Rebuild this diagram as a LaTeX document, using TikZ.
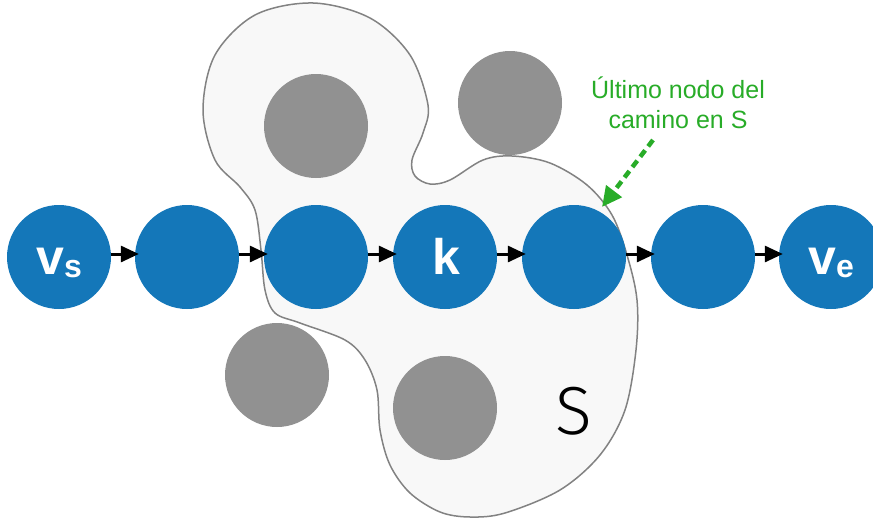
\documentclass[tikz,border=0pt]{standalone}
\usepackage{fontspec}
\setmainfont{Liberation Sans}
\newfontfamily\thinfont{Fira Sans Light}
\usetikzlibrary{arrows.meta}
\definecolor{nodeblue}{RGB}{20,119,185}
\definecolor{obsgray}{RGB}{145,145,145}
\definecolor{blobfill}{RGB}{248,248,248}
\definecolor{blobline}{RGB}{130,130,130}
\definecolor{labgreen}{RGB}{40,172,40}
\tikzset{
  bnode/.style={circle, fill=nodeblue, minimum size=104pt, inner sep=0pt},
  gnode/.style={circle, fill=obsgray, minimum size=104pt, inner sep=0pt},
  lbl/.style={text=white, font=\bfseries\fontsize{50}{50}\selectfont, inner sep=0pt, anchor=base},
  arr/.style={line width=3pt, -{Triangle[length=18pt,width=16pt]}, shorten >=-4pt},
  garr/.style={labgreen, line width=4.5pt, dash pattern=on 8pt off 5pt, -{Triangle[length=20pt,width=19pt]}},
}
\begin{document}
\begin{tikzpicture}[x=1pt,y=-1pt]
\useasboundingbox (0,0) rectangle (873,522);
% region S
\draw[fill=blobfill, draw=blobline, line width=1.5pt]
  plot[smooth cycle, tension=0.55] coordinates {
  (313,3) (370,18) (410,55) (428,105) (423,133) (412,160) (415,176) (430,184)
  (450,180) (483,160) (512,156) (550,163) (587,185) (612,215) (627,255)
  (637,300) (636,350) (625,410) (600,455) (560,490) (505,513) (470,517)
  (440,512) (410,493) (390,465) (380,430) (377,390) (365,360) (345,340)
  (300,323) (275,313) (265,290) (261,250) (255,210) (240,187) (215,160)
  (203,110) (215,55) (255,15)};
% obstacles
\node[gnode] (g1) at (316,126) {};
\node[gnode] (g2) at (510,103) {};
\node[gnode] (g3) at (277,375) {};
\node[gnode] (g4) at (445,408) {};
% path nodes
\node[bnode] (c1) at (59,257) {};
\node[bnode] (c2) at (187,257) {};
\node[bnode] (c3) at (316,257) {};
\node[bnode] (c4) at (445,257) {};
\node[bnode] (c5) at (574,257) {};
\node[bnode] (c6) at (703,257) {};
\node[bnode] (c7) at (831,257) {};
\node[lbl] (t1) at (59,274) {v\raisebox{-3pt}{\fontsize{32}{32}\selectfont s}};
\node[lbl] (t4) at (446,274) {k};
\node[lbl] (t7) at (831,274) {v\raisebox{-3pt}{\fontsize{32}{32}\selectfont e}};
% arrows
\foreach \a/\b in {c1/c2,c2/c3,c3/c4,c4/c5,c5/c6,c6/c7}
  \draw[arr] ([yshift=3pt]\a.east) -- ([yshift=3pt]\b.west);
% S label
\node[inner sep=0pt, anchor=base, font=\thinfont\fontsize{68}{68}\selectfont] (slab) at (574,434) {S};
% annotation
\node[text=labgreen, align=center, font=\fontsize{25}{30}\selectfont, inner sep=0pt, anchor=base] (note) at (678,128) {Último nodo del\\camino en S};
\coordinate (tail) at (653,140);
\coordinate (tip) at (602,207);
\draw[garr] (tail) -- (tip);
\end{tikzpicture}
\end{document}
